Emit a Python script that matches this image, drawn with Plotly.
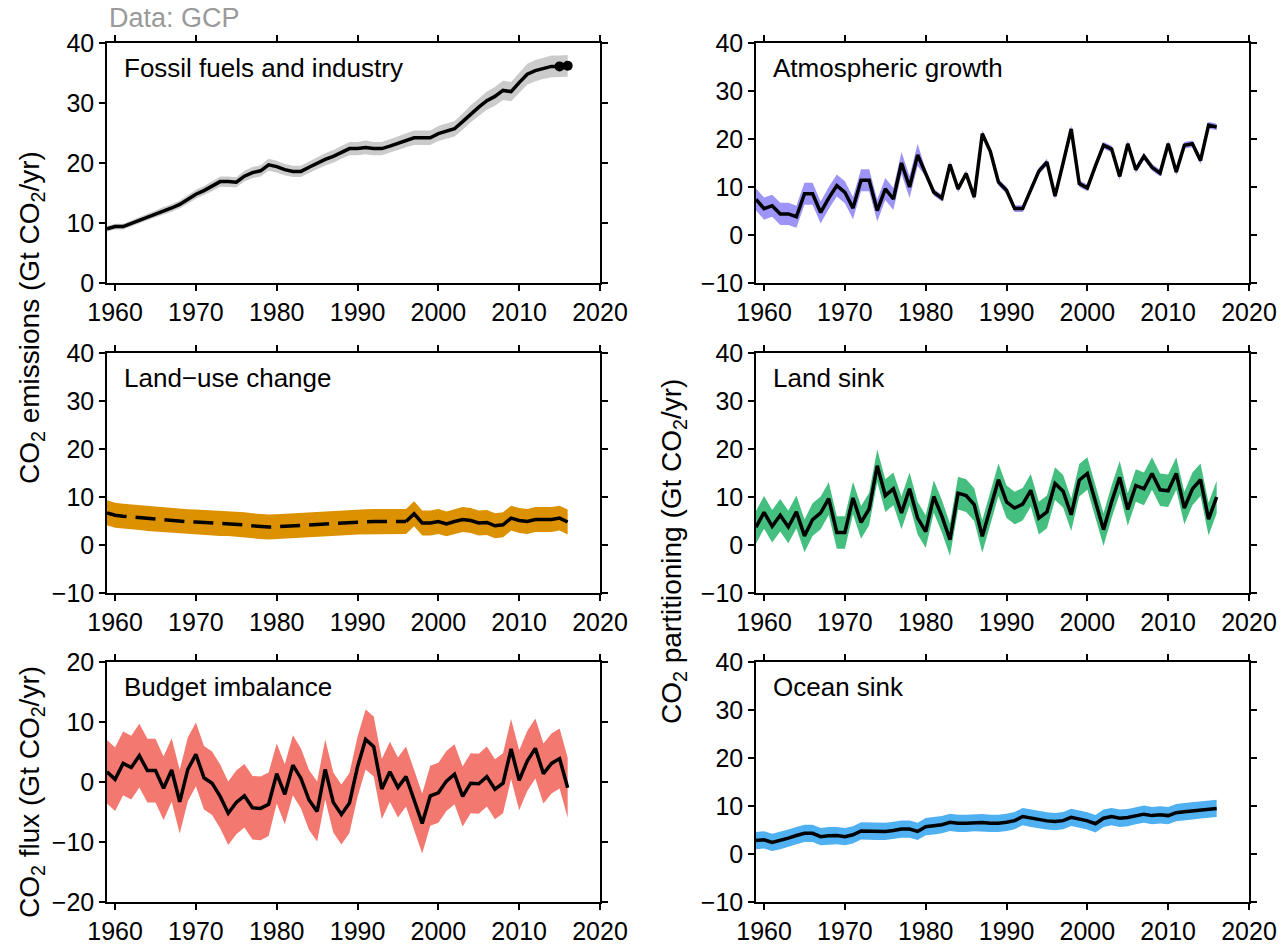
import plotly.graph_objects as go

# ---- data (Gt CO2 / yr) ----
years = list(range(1959, 2017))

fossil = [9.05, 9.4, 9.4, 9.9, 10.4, 11.0, 11.5, 12.05, 12.5, 13.1,
          13.9, 14.8, 15.4, 16.1, 16.9, 16.9, 16.8, 17.8, 18.4, 18.7,
          19.7, 19.4, 18.9, 18.6, 18.6, 19.3, 20.0, 20.6, 21.1, 21.8,
          22.4, 22.4, 22.6, 22.4, 22.4, 22.8, 23.3, 23.8, 24.2, 24.2,
          24.2, 24.9, 25.3, 25.7, 26.9, 28.2, 29.3, 30.4, 31.1, 32.1,
          31.9, 33.4, 34.8, 35.4, 35.8, 36.1, 36.1, 36.2]
fossil_unc = [0.45, 0.47, 0.47, 0.5, 0.52, 0.55, 0.58, 0.6, 0.63, 0.66,
              0.7, 0.74, 0.77, 0.81, 0.85, 0.85, 0.84, 0.89, 0.92, 0.94,
              0.99, 0.97, 0.95, 0.93, 0.93, 0.97, 1.0, 1.03, 1.06, 1.09,
              1.12, 1.12, 1.13, 1.12, 1.12, 1.14, 1.17, 1.19, 1.21, 1.21,
              1.21, 1.25, 1.27, 1.29, 1.35, 1.41, 1.47, 1.52, 1.56, 1.61,
              1.6, 1.67, 1.74, 1.77, 1.79, 1.81, 1.81, 1.81]
fossil_marker_years = [2015, 2016]
fossil_marker_vals = [36.1, 36.2]

atmos = [7.4, 5.5, 6.1, 4.4, 4.4, 3.8, 8.6, 8.6, 4.7, 7.7,
         10.3, 8.9, 5.6, 11.4, 11.4, 5.1, 9.6, 7.5, 15.0, 10.0,
         16.7, 12.9, 8.9, 7.7, 14.7, 9.6, 12.8, 7.9, 21.1, 17.4,
         11.0, 9.3, 5.5, 5.5, 9.6, 13.3, 15.2, 8.1, 15.0, 22.1,
         10.7, 9.8, 14.4, 18.7, 17.9, 12.2, 19.0, 13.6, 16.4, 14.1,
         12.9, 19.0, 13.1, 18.7, 19.0, 15.5, 22.9, 22.5]
atmos_unc = [2.3] * 21 + [0.7] * 37

landuse = [6.7, 6.2, 6.0, 5.85, 5.7, 5.5, 5.35, 5.2, 5.05, 4.95,
           4.85, 4.8, 4.7, 4.6, 4.5, 4.45, 4.4, 4.2, 4.0, 3.85,
           3.75, 3.8, 3.9, 4.0, 4.1, 4.25, 4.4, 4.45, 4.5, 4.6,
           4.7, 4.8, 4.85, 4.9, 4.9, 4.9, 4.9, 4.9, 6.5, 4.6,
           4.6, 4.9, 4.4, 4.9, 5.3, 5.1, 4.6, 4.7, 4.0, 4.2,
           5.6, 5.1, 4.9, 5.3, 5.3, 5.3, 5.6, 4.8]
landuse_unc = [2.6] * 58
landuse_dashed_until = 1996

land_sink = [3.7, 6.8, 3.9, 6.2, 3.75, 6.9, 1.9, 5.3, 6.7, 9.65,
             2.6, 2.6, 9.8, 4.7, 7.5, 16.5, 10.3, 11.7, 6.7, 11.7,
             5.6, 2.8, 10.1, 6.0, 1.1, 10.8, 10.3, 8.4, 1.8, 7.7,
             13.6, 9.0, 7.7, 8.5, 11.4, 5.6, 6.9, 12.8, 11.2, 6.3,
             13.5, 14.9, 8.9, 3.2, 9.0, 14.1, 7.4, 12.4, 11.7, 14.9,
             11.5, 11.3, 14.9, 7.7, 11.7, 13.6, 5.4, 10.0]
land_sink_unc = [3.4] * 58

imbalance = [1.7, 0.45, 3.1, 2.4, 4.4, 1.9, 1.9, -1.05, 2.0, -3.3,
             2.1, 4.6, 0.7, -0.2, -2.4, -5.2, -3.4, -2.3, -4.3, -4.4,
             -3.7, 1.4, -2.05, 2.8, 0.6, -3.0, -4.9, 2.1, -3.4, -5.4,
             -3.5, 2.55, 7.1, 5.9, -1.15, 1.7, -0.9, 0.9, -3.0, -6.9,
             -2.3, -1.8, 0.15, 1.3, -2.4, -0.2, -0.3, 0.9, -1.2, -0.2,
             5.5, 0.3, 3.5, 5.6, 1.4, 3.1, 3.9, -0.95]
imbalance_unc = [5.3] * 21 + [5.0] * 37

ocean_sink = [2.8, 2.95, 2.4, 2.8, 3.3, 3.85, 4.3, 4.3, 3.6, 3.8,
              3.85, 3.6, 4.0, 4.8, 4.8, 4.7, 4.7, 4.9, 5.2, 5.2,
              4.7, 5.7, 5.85, 6.1, 6.6, 6.4, 6.4, 6.55, 6.55, 6.4,
              6.4, 6.6, 6.95, 7.8, 7.45, 7.1, 6.9, 6.75, 6.95, 7.65,
              7.25, 6.9, 6.3, 7.45, 7.8, 7.45, 7.6, 8.0, 8.3, 8.0,
              8.15, 8.0, 8.6, 8.8, 9.0, 9.2, 9.4, 9.5]
ocean_sink_unc = [1.8] * 58

panel_titles = ["Fossil fuels and industry", "Atmospheric growth",
                "Land\u2212use change", "Land sink",
                "Budget imbalance", "Ocean sink"]
band_colors = ["#cbcbcb", "#9c95f7", "#dc9100", "#45bf7f", "#f3786f", "#4fb0f2"]

x_ticks = [1960, 1970, 1980, 1990, 2000, 2010, 2020]

# ---- geometry (pixels) ----
W, H = 1281, 944
col_px = [(107, 600), (756, 1249)]
row_px = [(43, 283), (353, 593), (662, 902)]

FONT = "Liberation Sans, Arial, Helvetica, sans-serif"
LINE_W = 3.5

fig = go.Figure()


def band(xs, vals, unc):
    upper = [v + u for v, u in zip(vals, unc)]
    lower = [v - u for v, u in zip(vals, unc)]
    return xs + xs[::-1], upper + lower[::-1]


panels = [
    (fossil, fossil_unc, (0, 40), [0, 10, 20, 30, 40]),
    (atmos, atmos_unc, (-10, 40), [-10, 0, 10, 20, 30, 40]),
    (landuse, landuse_unc, (-10, 40), [-10, 0, 10, 20, 30, 40]),
    (land_sink, land_sink_unc, (-10, 40), [-10, 0, 10, 20, 30, 40]),
    (imbalance, imbalance_unc, (-20, 20), [-20, -10, 0, 10, 20]),
    (ocean_sink, ocean_sink_unc, (-10, 40), [-10, 0, 10, 20, 30, 40]),
]

layout_axes = {}
annotations = []
for i, (vals, unc, yr, yt) in enumerate(panels):
    n = i + 1
    r, c = divmod(i, 2)
    xa = "x" if n == 1 else f"x{n}"
    ya = "y" if n == 1 else f"y{n}"

    bx, by = band(years, vals, unc)
    fig.add_trace(go.Scatter(x=bx, y=by, fill="toself", fillcolor=band_colors[i],
                             line=dict(width=0), mode="lines", hoverinfo="skip",
                             showlegend=False, xaxis=xa, yaxis=ya))

    if i == 2:
        k = years.index(landuse_dashed_until)
        fig.add_trace(go.Scatter(x=years[:k + 1], y=vals[:k + 1], mode="lines",
                                 line=dict(color="black", width=LINE_W, dash="20px,9px"),
                                 showlegend=False, xaxis=xa, yaxis=ya))
        fig.add_trace(go.Scatter(x=years[k:], y=vals[k:], mode="lines",
                                 line=dict(color="black", width=LINE_W),
                                 showlegend=False, xaxis=xa, yaxis=ya))
    else:
        fig.add_trace(go.Scatter(x=years, y=vals, mode="lines",
                                 line=dict(color="black", width=LINE_W),
                                 showlegend=False, xaxis=xa, yaxis=ya))
    if i == 0:
        fig.add_trace(go.Scatter(x=fossil_marker_years, y=fossil_marker_vals, mode="markers",
                                 marker=dict(color="black", size=10),
                                 showlegend=False, xaxis=xa, yaxis=ya))

    x0, x1 = col_px[c]
    y0, y1 = row_px[r]
    common = dict(showline=True, linecolor="black", linewidth=1.5, mirror="ticks",
                  ticks="outside", ticklen=6, tickwidth=1.5, tickcolor="black",
                  showgrid=False, zeroline=False, automargin=False,
                  tickfont=dict(family=FONT, size=25, color="black"))
    layout_axes["xaxis" if n == 1 else f"xaxis{n}"] = dict(
        domain=[x0 / W, x1 / W], range=[1959, 2020], tickvals=x_ticks,
        anchor=ya, **common)
    layout_axes["yaxis" if n == 1 else f"yaxis{n}"] = dict(
        domain=[1 - y1 / H, 1 - y0 / H], range=list(yr), tickvals=yt,
        anchor=xa, **common)

    annotations.append(dict(text=panel_titles[i], xref=f"{xa} domain", yref=f"{ya} domain",
                            x=15 / (x1 - x0), y=1 - 25 / (y1 - y0), xanchor="left",
                            yanchor="middle", showarrow=False,
                            font=dict(family=FONT, size=26, color="black")))

# axis titles and source note
axis_title_font = dict(family=FONT, size=28, color="black")
annotations += [
    dict(text="CO<sub>2</sub> emissions (Gt CO<sub>2</sub>/yr)", xref="paper", yref="paper",
         x=31 / W, y=1 - 318 / H, textangle=-90, showarrow=False,
         xanchor="center", yanchor="middle", font=axis_title_font),
    dict(text="CO<sub>2</sub> flux (Gt CO<sub>2</sub>/yr)", xref="paper", yref="paper",
         x=31 / W, y=1 - 792 / H, textangle=-90, showarrow=False,
         xanchor="center", yanchor="middle", font=axis_title_font),
    dict(text="CO<sub>2</sub> partitioning (Gt CO<sub>2</sub>/yr)", xref="paper", yref="paper",
         x=673 / W, y=1 - 552 / H, textangle=-90, showarrow=False,
         xanchor="center", yanchor="middle", font=axis_title_font),
    dict(text="Data: GCP", xref="paper", yref="paper", x=107 / W, y=1 - 18 / H,
         xanchor="left", yanchor="middle", showarrow=False,
         font=dict(family=FONT, size=27, color="#9a9a9a")),
]

fig.update_layout(width=W, height=H, margin=dict(l=0, r=0, t=0, b=0),
                  paper_bgcolor="white", plot_bgcolor="white",
                  annotations=annotations, **layout_axes)

fig.write_html("out.html")
